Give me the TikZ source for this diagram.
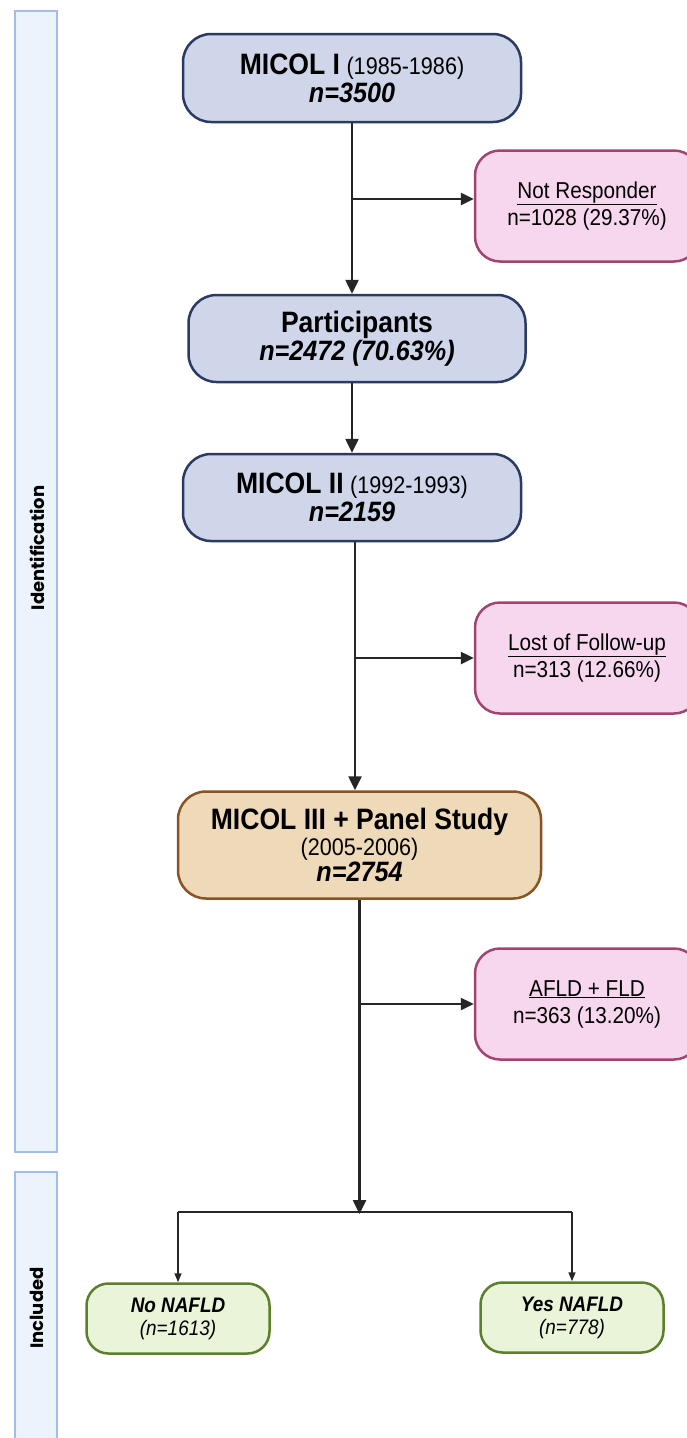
\documentclass[tikz,border=0pt]{standalone}
\usepackage{fontspec}
\setmainfont{Liberation Sans}[FakeStretch=0.9]
\newfontfamily\bandfont{Poppins}
\usepackage{xcolor}
\usepackage{tikz}
\usetikzlibrary{arrows.meta,positioning,calc}

\definecolor{blueFill}{HTML}{CFD6E9}
\definecolor{blueLine}{HTML}{2B3A63}
\definecolor{tanFill}{HTML}{EED9B9}
\definecolor{tanLine}{HTML}{8A5324}
\definecolor{pinkFill}{HTML}{F6D7EE}
\definecolor{pinkLine}{HTML}{A1456F}
\definecolor{greenFill}{HTML}{E9F4D8}
\definecolor{greenLine}{HTML}{5B7F2B}
\definecolor{bandFill}{HTML}{EBF3FC}
\definecolor{bandLine}{HTML}{A2BDE6}
\definecolor{arrowCol}{HTML}{262626}

\newcommand{\stagetitle}[1]{{\fontsize{29.5}{28}\selectfont\bfseries #1}}
\newcommand{\stageyears}[1]{{\fontsize{24}{28}\selectfont #1}}
\newcommand{\stagecount}[1]{{\fontsize{28}{28}\selectfont\bfseries\itshape #1}}

\begin{document}
\begin{tikzpicture}[x=1pt, y=-1pt,
    stagebox/.style={draw=blueLine, fill=blueFill, line width=2.5pt, rounded corners=28pt,
        align=center, inner sep=0pt, minimum width=338pt, minimum height=88pt,
        font=\fontsize{26}{28}\selectfont},
    mergebox/.style={stagebox, draw=tanLine, fill=tanFill, minimum width=363pt, minimum height=107pt,
        font=\fontsize{26}{26}\selectfont},
    dropbox/.style={draw=pinkLine, fill=pinkFill, line width=2.5pt, rounded corners=25pt,
        align=center, inner sep=0pt, minimum width=224pt, minimum height=111pt,
        font=\fontsize{23}{27}\selectfont},
    groupbox/.style={draw=greenLine, fill=greenFill, line width=2.5pt, rounded corners=22pt,
        align=center, inner sep=0pt, minimum width=183pt, minimum height=70pt,
        font=\fontsize{21}{23}\selectfont\itshape},
    band/.style={draw=bandLine, fill=bandFill, line width=1.5pt},
    bandlabel/.style={rotate=90, font=\bandfont\bfseries\fontsize{18}{20}\selectfont},
    flow/.style={draw=arrowCol, line width=2.5pt, -{Triangle[length=14pt,width=13pt]}},
    branch/.style={draw=arrowCol, line width=2.5pt, -{Triangle[length=13pt,width=12pt]}},
    split/.style={draw=arrowCol, line width=1.5pt},
    splitarrow/.style={split, -{Triangle[length=9pt,width=7pt]}}]

    \useasboundingbox (0,0) rectangle (687,1438);
    \clip (0,0) rectangle (687,1438);

    % Side bands
    \draw[band] (15,11) rectangle (57,1152);
    \draw[band] (15,1172) rectangle (57,1460);
    \node[bandlabel] (identlbl) at (37,548) {Identification};
    \node[bandlabel] (inclbl) at (37,1308) {Included};

    % Main stages
    \node[stagebox] (micolA) at (352,78)
        {\stagetitle{MICOL I} \stageyears{(1985-1986)}\\ \stagecount{n=3500}};
    \node[stagebox, minimum width=337pt, minimum height=87pt] (partic) at (357,338.5)
        {\stagetitle{Participants}\\ \stagecount{n=2472 (70.63\%)}};
    \node[stagebox, minimum height=87pt] (micolB) at (352,497.5)
        {\stagetitle{MICOL II} \stageyears{(1992-1993)}\\ \stagecount{n=2159}};
    \node[mergebox] (micolC) at (359.5,845)
        {\stagetitle{MICOL III + Panel Study}\\ \stageyears{(2005-2006)}\\ \stagecount{n=2754}};

    % Exclusions
    \node[dropbox] (notresp) at (587,206) {\underline{Not Responder}\\n=1028 (29.37\%)};
    \node[dropbox] (lostfu) at (587,658) {\underline{Lost of Follow-up}\\n=313 (12.66\%)};
    \node[dropbox] (afld) at (587,1004) {\underline{AFLD + FLD}\\n=363 (13.20\%)};

    % Final groups
    \node[groupbox] (nonafld) at (178,1318.5) {{\bfseries No NAFLD}\\(n=1613)};
    \node[groupbox] (yesnafld) at (572,1317.5) {{\bfseries Yes NAFLD}\\(n=778)};

    % Connectors
    \draw[flow] (micolA.south) -- (micolA.south |- partic.north);
    \draw[branch] (micolA.south |- 0,199) -- (notresp.west |- 0,199);
    \draw[flow] (micolA.south |- partic.south) -- (micolB.north);
    \draw[flow] ($(micolB.south)+(3,0)$) -- ($(micolB.south |- micolC.north)+(3,0)$);
    \draw[branch] ($(micolB.south |- lostfu.west)+(3,0)$) -- (lostfu.west);
    \coordinate (fork) at (micolC.south |- 0,1212);
    \draw[flow] (micolC.south) -- ($(fork)+(0,2)$);
    \draw[branch] (micolC.south |- afld.west) -- (afld.west);
    \draw[split] (nonafld.north |- fork) -- (yesnafld.north |- fork);
    \draw[splitarrow] (nonafld.north |- fork) -- (nonafld.north);
    \draw[splitarrow] (yesnafld.north |- fork) -- (yesnafld.north);
\end{tikzpicture}
\end{document}
